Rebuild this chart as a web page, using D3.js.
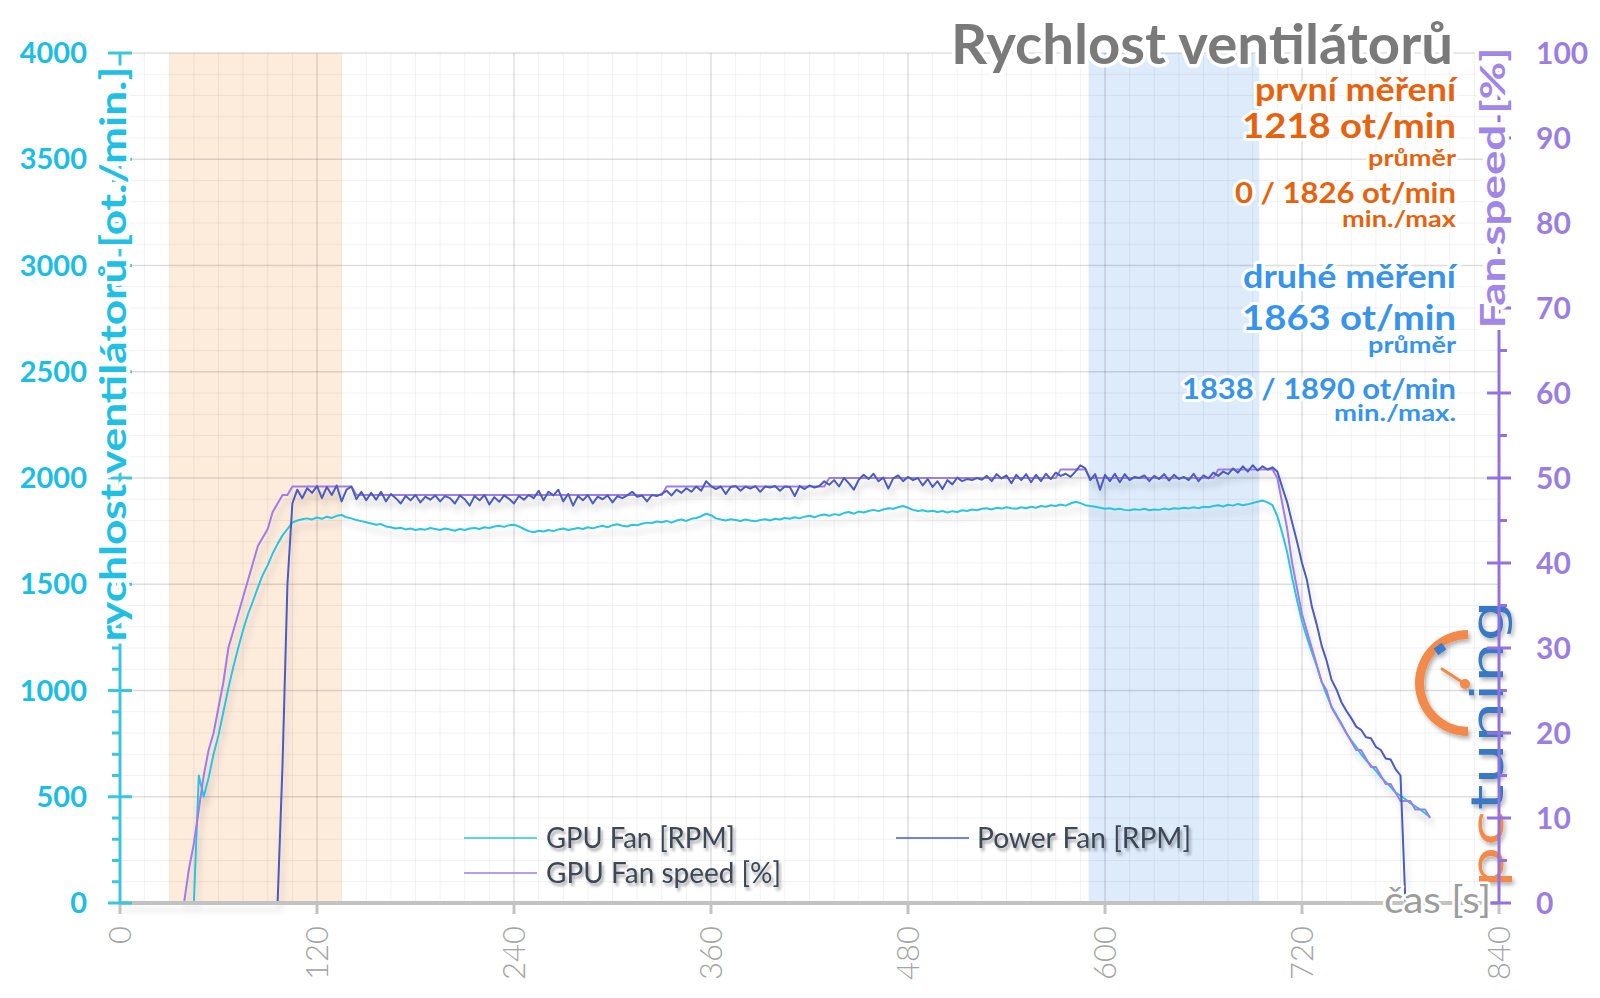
<!DOCTYPE html>
<html>
<head>
<meta charset="utf-8">
<script src="https://cdn.jsdelivr.net/npm/d3@7"></script>
<style>
html,body{margin:0;padding:0;background:#fff;}
svg{display:block;}
</style>
</head>
<body>
<svg id="chart" width="1600" height="998"></svg>
<script>
// ---------------- DATA ----------------
const SAMPLE_STEP = 3; // seconds between samples

// GPU Fan [RPM]  (rows of 10 samples = 30 s)
const gpuFanRpm = [
  0,0,0,0,0,0,0,0,0,0,
  0,0,0,0,0,0,600,500,590,700,
  790,900,1010,1110,1200,1285,1360,1420,1485,1545,
  1590,1645,1690,1730,1760,1790,1800,1806,1810,1805,
  1814,1808,1818,1812,1822,1826,1815,1810,1802,1797,
  1792,1786,1780,1783,1772,1768,1762,1766,1758,1762,
  1755,1760,1757,1765,1760,1755,1762,1758,1752,1760,
  1755,1762,1765,1760,1768,1765,1772,1775,1770,1778,
  1780,1772,1760,1750,1745,1752,1748,1755,1750,1758,
  1762,1755,1760,1765,1760,1768,1763,1770,1775,1768,
  1778,1782,1775,1772,1780,1778,1785,1790,1788,1795,
  1792,1798,1790,1800,1805,1798,1808,1812,1820,1832,
  1825,1810,1805,1800,1806,1802,1798,1805,1800,1796,
  1802,1806,1800,1808,1805,1812,1808,1815,1810,1818,
  1822,1815,1824,1828,1822,1830,1826,1835,1840,1832,
  1842,1838,1845,1850,1844,1852,1858,1855,1862,1868,
  1860,1850,1845,1848,1842,1846,1840,1845,1838,1844,
  1840,1848,1845,1852,1848,1855,1858,1852,1860,1856,
  1862,1858,1855,1862,1858,1865,1860,1868,1865,1872,
  1868,1875,1870,1880,1888,1882,1872,1868,1865,1860,
  1855,1858,1852,1855,1850,1848,1853,1850,1855,1848,
  1852,1850,1856,1852,1858,1855,1860,1857,1862,1858,
  1865,1862,1868,1872,1866,1874,1870,1878,1872,1876,
  1882,1888,1894,1885,1872,1820,1740,1650,1530,1425,
  1325,1250,1180,1115,1040,980,925,885,845,800,
  765,735,700,672,648,622,592,570,545,520,
  505,488,470,455,440,422,405
];

// GPU Fan speed [%]
const gpuFanSpeedPct = [
  0,0,0,0,0,0,0,0,0,0,
  0,0,0,0,4,7,11,15,18,20,
  23,26,30,32,34,36,38,40,42,43,
  44,46,47,48,48,49,49,49,49,49,
  49,49,49,49,49,49,49,49,48,48,
  48,48,48,48,48,48,48,48,48,48,
  48,48,48,48,48,48,48,48,48,48,
  48,48,48,48,48,48,48,48,48,48,
  48,48,48,48,48,48,48,48,48,48,
  48,48,48,48,48,48,48,48,48,48,
  48,48,48,48,48,48,48,48,48,48,
  48,49,49,49,49,49,49,49,49,49,
  49,49,49,49,49,49,49,49,49,49,
  49,49,49,49,49,49,49,49,49,49,
  49,49,49,49,50,50,50,50,50,50,
  50,50,50,50,50,50,50,50,50,50,
  50,50,50,50,50,50,50,50,50,50,
  50,50,50,50,50,50,50,50,50,50,
  50,50,50,50,50,50,50,50,50,50,
  50,51,51,51,51,51,51,50,50,50,
  50,50,50,50,50,50,50,50,50,50,
  50,50,50,50,50,50,50,50,50,50,
  50,50,50,51,51,51,51,51,51,51,
  51,51,51,51,51,50,47,44,40,37,
  34,32,30,28,26,25,23,22,21,20,
  19,18,18,17,16,16,15,14,14,13,
  12,12,12,11,11,11,10
];

// Power Fan [RPM]
const powerFanRpm = [
  0,0,0,0,0,0,0,0,0,0,
  0,0,0,0,0,0,0,0,0,0,
  0,0,0,0,0,0,0,0,0,0,
  0,0,0,650,1500,1880,1945,1905,1952,1930,
  1962,1905,1958,1920,1965,1890,1945,1960,1900,1935,
  1895,1930,1898,1935,1890,1925,1905,1880,1915,1895,
  1920,1885,1912,1898,1918,1890,1915,1905,1880,1918,
  1900,1870,1915,1895,1920,1875,1910,1888,1918,1902,
  1880,1915,1898,1920,1905,1940,1895,1935,1918,1945,
  1890,1925,1870,1915,1895,1920,1880,1912,1900,1918,
  1885,1915,1905,1918,1935,1912,1918,1890,1920,1915,
  1925,1940,1918,1945,1930,1952,1935,1960,1940,1985,
  1962,1948,1960,1925,1958,1962,1940,1960,1950,1962,
  1935,1960,1955,1962,1940,1960,1958,1915,1962,1948,
  1965,1955,1962,1985,1968,1990,1960,2000,1975,1945,
  1992,2015,1995,2020,1985,2002,1950,1998,2012,1985,
  2005,1990,2000,1965,1995,1958,1985,1948,1990,1970,
  2002,1985,1995,1990,2000,1992,2010,1985,2018,1998,
  2012,1975,2015,1990,2018,1980,2015,1985,2020,1995,
  2025,2010,2020,2005,2030,2060,2045,1990,2018,1945,
  2015,1985,2020,1980,2018,1990,2005,2000,2012,1985,
  2010,1995,2018,1988,2015,1995,2005,1990,2020,1985,
  2012,1998,2025,2010,2030,2018,2045,2025,2055,2030,
  2060,2035,2055,2040,2050,2030,1955,1885,1790,1700,
  1600,1520,1395,1310,1210,1140,1050,1005,945,905,
  870,830,815,780,775,735,720,680,675,630,
  600,0,null,null,null,null,null
];

const xTickValues = [0,120,240,360,480,600,720,840];
const rpmTickValues = [0,500,1000,1500,2000,2500,3000,3500,4000];
const pctTickValues = [0,10,20,30,40,50,60,70,80,90,100];
const firstRun = [30,135];   // seconds
const secondRun = [590,694]; // seconds

const titleText = "Rychlost ventilátorů";
const leftAxisTitle = "rychlost ventilátorů [ot./min.]";
const rightAxisTitle = "Fan speed [%]";
const xAxisTitle = "čas [s]";
const firstRunTexts = ["první měření","1218 ot/min","průměr","0 / 1826 ot/min","min./max"];
const secondRunTexts = ["druhé měření","1863 ot/min","průměr","1838 / 1890 ot/min","min./max."];
const legendLabels = ["GPU Fan [RPM]","GPU Fan speed [%]","Power Fan [RPM]"];

// ---------------- CHART ----------------
const svg = d3.select('#chart');
const FONT = "Lato, 'Open Sans', sans-serif";

const defs = svg.append('defs');
defs.append('filter').attr('id','lineShadow')
  .attr('x','-5%').attr('y','-10%').attr('width','115%').attr('height','130%')
  .append('feDropShadow').attr('dx',3).attr('dy',7).attr('stdDeviation',3)
  .attr('flood-color','#000').attr('flood-opacity',0.15);
defs.append('filter').attr('id','textShadow')
  .attr('x','-10%').attr('y','-30%').attr('width','130%').attr('height','180%')
  .append('feDropShadow').attr('dx',2).attr('dy',3).attr('stdDeviation',1.6)
  .attr('flood-color','#000').attr('flood-opacity',0.35);
defs.append('filter').attr('id','logoShadow')
  .attr('x','-30%').attr('y','-30%').attr('width','160%').attr('height','160%')
  .append('feDropShadow').attr('dx',2).attr('dy',3).attr('stdDeviation',2)
  .attr('flood-color','#000').attr('flood-opacity',0.3);

const x = d3.scaleLinear().domain([0,840]).range([120,1499]);
const yL = d3.scaleLinear().domain([0,4000]).range([903,53]);
const yR = d3.scaleLinear().domain([0,100]).range([903,53]);
const [X0,X1] = x.range();
const [Y0,Y1] = yL.range();

// bands
svg.append('rect').attr('x',x(firstRun[0])).attr('y',Y1)
  .attr('width',x(firstRun[1])-x(firstRun[0])).attr('height',Y0-Y1).attr('fill','#fdebdc');
svg.append('rect').attr('x',x(secondRun[0])).attr('y',Y1)
  .attr('width',x(secondRun[1])-x(secondRun[0])).attr('height',Y0-Y1).attr('fill','#ddebfb');

// grid
const grid = svg.append('g');
d3.range(0,841,15).forEach(t=>{
  const major = t % 120 === 0;
  grid.append('line').attr('x1',x(t)).attr('x2',x(t)).attr('y1',Y1).attr('y2',Y0)
    .attr('stroke', major ? 'rgba(0,0,0,0.13)' : 'rgba(0,0,0,0.055)')
    .attr('stroke-width', major ? 1.5 : 1);
});
d3.range(0,4001,100).forEach(v=>{
  const major = v % 500 === 0;
  grid.append('line').attr('x1',X0).attr('x2',X1).attr('y1',yL(v)).attr('y2',yL(v))
    .attr('stroke', major ? 'rgba(0,0,0,0.13)' : 'rgba(0,0,0,0.055)')
    .attr('stroke-width', major ? 1.5 : 1);
});

// logo
const logo = svg.append('g').attr('filter','url(#logoShadow)');
logo.append('path').attr('transform','translate(1468,683)')
  .attr('d', d3.arc()({innerRadius:44, outerRadius:53, startAngle:-Math.PI, endAngle:0}))
  .attr('fill','#f28a4c');
logo.append('rect').attr('x',-5).attr('y',-4).attr('width',10).attr('height',8)
  .attr('transform','translate(1440,649) rotate(-35)').attr('fill','#3a7bd0');
logo.append('line').attr('x1',1465).attr('y1',684).attr('x2',1442).attr('y2',669)
  .attr('stroke','#f28a4c').attr('stroke-width',3).attr('stroke-linecap','round');
logo.append('circle').attr('cx',1465).attr('cy',684).attr('r',5).attr('fill','#f28a4c');
const logoText = logo.append('text').attr('transform','translate(1503,888) rotate(-90)')
  .attr('font-family',"'DejaVu Sans', sans-serif").attr('font-weight',400).attr('font-size',44)
  .attr('textLength',288).attr('lengthAdjust','spacingAndGlyphs');
logoText.append('tspan').attr('fill','#f28a4c').text('pc');
logoText.append('tspan').attr('fill','#3a78c4').text('tuning');

// series
const times = d3.range(gpuFanRpm.length).map(i => i * SAMPLE_STEP);
const lines = svg.append('g').attr('filter','url(#lineShadow)').attr('fill','none')
  .attr('stroke-linejoin','round');
const rpmLine = d3.line().defined(d => d[1] != null).x(d => x(d[0])).y(d => yL(d[1]));
const pctLine = d3.line().defined(d => d[1] != null).x(d => x(d[0])).y(d => yR(d[1]));
lines.append('path').attr('d', rpmLine(times.map((t,i)=>[t,gpuFanRpm[i]])))
  .attr('stroke','#2cc3e0').attr('stroke-width',2);
lines.append('path').attr('d', pctLine(times.map((t,i)=>[t,gpuFanSpeedPct[i]])))
  .attr('stroke','#a07ce6').attr('stroke-width',2);
lines.append('path').attr('d', rpmLine(times.map((t,i)=>[t,powerFanRpm[i]])))
  .attr('stroke','#4b5cbd').attr('stroke-width',2);

// x axis
svg.append('line').attr('x1',X0).attr('x2',X1).attr('y1',Y0).attr('y2',Y0)
  .attr('stroke','#c2c2c2').attr('stroke-width',4);
xTickValues.forEach(t=>{
  svg.append('line').attr('x1',x(t)).attr('x2',x(t)).attr('y1',Y0).attr('y2',Y0+11)
    .attr('stroke','#c2c2c2').attr('stroke-width',3);
  svg.append('text').attr('transform',`translate(${x(t)},926) rotate(-90)`)
    .attr('text-anchor','end').attr('dy','0.35em')
    .attr('font-family',FONT).attr('font-weight',300).attr('font-size',31)
    .attr('fill','#a3a3a3').text(t);
});

// left axis
svg.append('line').attr('x1',X0).attr('x2',X0).attr('y1',Y1).attr('y2',Y0)
  .attr('stroke','#3cc5dc').attr('stroke-width',3);
d3.range(0,4001,100).forEach(v=>{
  const major = v % 500 === 0;
  svg.append('line').attr('x1', major ? X0-12 : X0-8).attr('x2', major ? X0+12 : X0)
    .attr('y1',yL(v)).attr('y2',yL(v)).attr('stroke','#3cc5dc').attr('stroke-width',3);
});
rpmTickValues.forEach(v=>{
  svg.append('text').attr('x',87).attr('y',yL(v)).attr('dy','0.35em').attr('text-anchor','end')
    .attr('font-family',FONT).attr('font-weight',700).attr('font-size',29)
    .attr('fill','#20bde3').text(v);
});

// right axis
svg.append('line').attr('x1',X1).attr('x2',X1).attr('y1',Y1).attr('y2',Y0)
  .attr('stroke','#9272df').attr('stroke-width',3);
d3.range(0,101,5).forEach(v=>{
  const major = v % 10 === 0;
  svg.append('line').attr('x1', major ? X1-12 : X1).attr('x2', major ? X1+12 : X1+8)
    .attr('y1',yR(v)).attr('y2',yR(v)).attr('stroke','#9272df').attr('stroke-width',3);
});
pctTickValues.forEach(v=>{
  svg.append('text').attr('x',1536).attr('y',yR(v)).attr('dy','0.35em').attr('text-anchor','start')
    .attr('font-family',FONT).attr('font-weight',700).attr('font-size',30)
    .attr('fill','#9a7fe0').text(v);
});

function halo(sel, w){
  return sel.attr('stroke','#fff').attr('stroke-width',w).attr('stroke-linejoin','round')
    .attr('paint-order','stroke');
}

// axis titles
halo(svg.append('text').attr('transform','translate(126,354) rotate(-90)')
  .attr('text-anchor','middle').attr('font-family',FONT).attr('font-weight',700)
  .attr('font-size',37).attr('fill','#22bfe4')
  .attr('textLength',575).attr('lengthAdjust','spacingAndGlyphs').text(leftAxisTitle), 8);
halo(svg.append('text').attr('transform','translate(1505,188) rotate(-90)')
  .attr('text-anchor','middle').attr('font-family',FONT).attr('font-weight',700)
  .attr('font-size',35).attr('fill','#a086e6')
  .attr('textLength',281).attr('lengthAdjust','spacingAndGlyphs').text(rightAxisTitle), 8);
halo(svg.append('text').attr('x',1491).attr('y',913).attr('text-anchor','end')
  .attr('font-family',FONT).attr('font-weight',400).attr('font-size',37).attr('fill','#9c9c9c')
  .attr('textLength',107).attr('lengthAdjust','spacingAndGlyphs').text(xAxisTitle), 5);

// title
halo(svg.append('text').attr('x',1453).attr('y',64).attr('text-anchor','end')
  .attr('font-family',FONT).attr('font-weight',700).attr('font-size',56).attr('fill','#7a7a7a')
  .attr('textLength',502).attr('lengthAdjust','spacingAndGlyphs').text(titleText), 7);

// annotations
const annLayout = [
  {y:101, size:32, w:201},
  {y:138, size:34, w:214},
  {y:166, size:22, w:88},
  {y:203, size:28, w:221},
  {y:227, size:22, w:114}
];
const annLayout2 = [
  {y:288, size:32, w:213},
  {y:330, size:34, w:214},
  {y:353, size:22, w:88},
  {y:399, size:28, w:274},
  {y:421, size:22, w:122}
];
function drawAnn(texts, layout, color){
  texts.forEach((t,i)=>{
    const L = layout[i];
    halo(svg.append('text').attr('x',1456).attr('y',L.y).attr('text-anchor','end')
      .attr('font-family',FONT).attr('font-weight',700).attr('font-size',L.size)
      .attr('fill',color).attr('textLength',L.w).attr('lengthAdjust','spacingAndGlyphs')
      .text(t), 6);
  });
}
drawAnn(firstRunTexts, annLayout, '#e5630f');
drawAnn(secondRunTexts, annLayout2, '#3794ea');

// legend
const legendItems = [
  {label:legendLabels[0], color:'#2cc3d8', lx:464, tx:546, y:838, w:189},
  {label:legendLabels[1], color:'#a07ce6', lx:464, tx:546, y:873, w:235},
  {label:legendLabels[2], color:'#4b5cbd', lx:896, tx:977, y:838, w:214}
];
legendItems.forEach(it=>{
  svg.append('line').attr('x1',it.lx).attr('x2',it.lx+73).attr('y1',it.y).attr('y2',it.y)
    .attr('stroke',it.color).attr('stroke-width',1.5);
  svg.append('text').attr('x',it.tx).attr('y',it.y+10).attr('filter','url(#textShadow)')
    .attr('font-family',FONT).attr('font-weight',400).attr('font-size',28).attr('fill','#3d4757')
    .attr('textLength',it.w).attr('lengthAdjust','spacingAndGlyphs').text(it.label);
});
</script>
</body>
</html>
